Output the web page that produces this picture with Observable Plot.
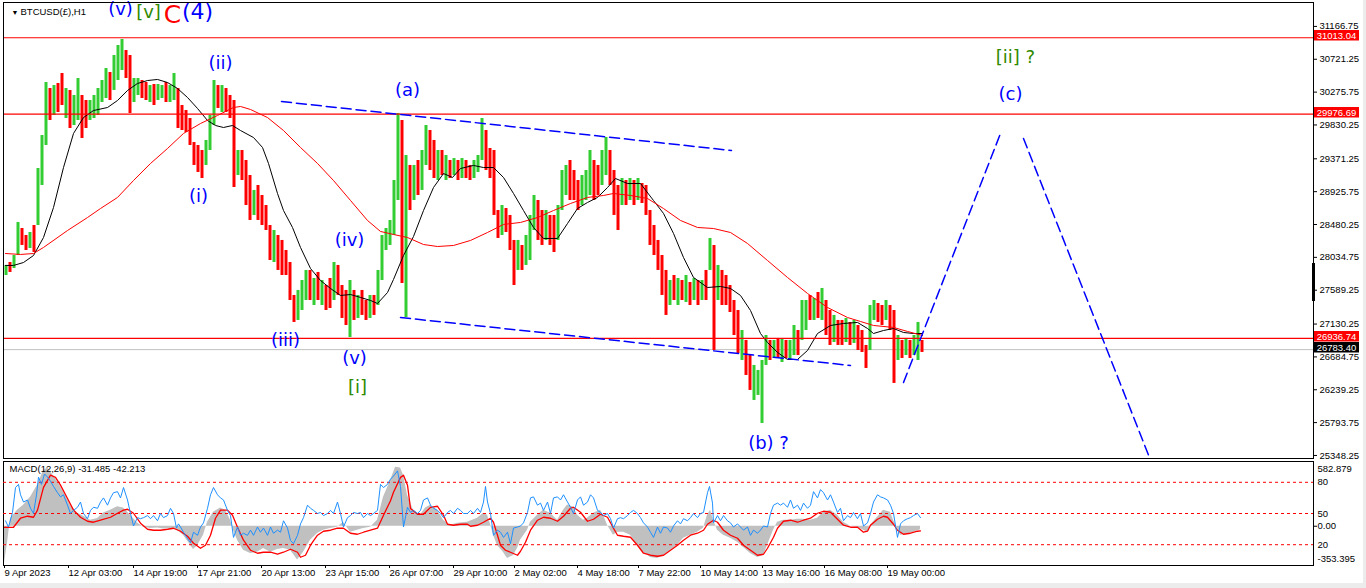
<!DOCTYPE html>
<html>
<head>
<meta charset="utf-8">
<script src="https://cdn.jsdelivr.net/npm/d3@7"></script>
<script src="https://cdn.jsdelivr.net/npm/@observablehq/plot@0.6"></script>
<style>
html,body{margin:0;padding:0;background:#ececec;}
#wrap{position:relative;width:1363px;height:583px;background:#fff;overflow:hidden;}
.layer{position:absolute;left:0;}
.layer svg{display:block;}
#axbar{position:absolute;left:1312px;top:263px;width:3px;height:38px;background:#000;}
</style>
</head>
<body>
<div id="wrap">
  <div id="main" class="layer" style="top:0"></div>
  <div id="macd" class="layer" style="top:459px"></div>
  <div id="osc" class="layer" style="top:459px"></div>
  <div id="axbar"></div>
</div>
<script>
// ---------------- DATA ----------------
const symbolTitle = "BTCUSD(£),H1";
const macdTitle = "MACD(12,26,9) -31.485 -42.213";

const priceTicks = [31166.75, 30721.25, 30275.75, 29830.25, 29371.25, 28925.75, 28480.25,
  28034.75, 27589.25, 27130.25, 26684.75, 26239.25, 25793.75, 25348.25];
const levelPrices = [31013.04, 29976.69, 26936.74];
const bidPrice = 26783.40;

const timeTicks = [3, 67, 132, 196, 260, 324, 388, 452, 513, 576, 637, 699, 761, 823, 886];
const timeLabels = ["9 Apr 2023", "12 Apr 03:00", "14 Apr 19:00", "17 Apr 21:00", "20 Apr 13:00",
  "23 Apr 15:00", "26 Apr 07:00", "29 Apr 10:00", "2 May 02:00", "4 May 18:00", "7 May 22:00",
  "10 May 14:00", "13 May 16:00", "16 May 08:00", "19 May 00:00"];

// H1 bars grouped by 4 hours: high, low, direction (u = up, d = down)
const barStart = 4, barStep = 4;
const barHigh = [
  27925, 27965, 28060, 28508, 28426, 28331, 28372, 28467, 29240, 29687,
  30406, 30325, 30365, 30393, 30528, 30325, 30298, 30230, 30460, 30230,
  30162, 30162, 30230, 30325, 30433, 30596, 30542, 30772, 30908, 30989,
  30840, 30772, 30460, 30460, 30433, 30406, 30365, 30379, 30379, 30365,
  30406, 30365, 30528, 30325, 30094, 30026, 29918, 29592, 29552, 29484,
  29620, 29959, 30433, 30365, 30365, 30325, 30230, 30162, 29484, 29484,
  29348, 29145, 28942, 29009, 28874, 28738, 28467, 28399, 28331, 28264,
  28128, 27965, 27518, 27586, 27721, 27857, 27857, 27748, 27830, 27721,
  27653, 27748, 27965, 27925, 27653, 27586, 27721, 27586, 27518, 27586,
  27450, 27518, 27518, 27857, 28331, 28426, 28535, 29077, 29986, 29891,
  29416, 29281, 29281, 29348, 29484, 29823, 29755, 29620, 29484, 29484,
  29416, 29348, 29375, 29348, 29375, 29348, 29281, 29348, 29416, 29918,
  29755, 29511, 29484, 28670, 28738, 28697, 28603, 28264, 28264, 28196,
  28331, 28603, 28874, 28806, 28670, 28670, 28603, 28603, 28738, 29213,
  29281, 29348, 29213, 29077, 29145, 29213, 29484, 29348, 29281, 29484,
  29660, 29484, 29213, 29009, 29104, 29077, 29104, 29077, 29104, 29036,
  29009, 28670, 28467, 28264, 28060, 27857, 27721, 27789, 27748, 27721,
  27789, 27694, 27748, 27721, 27721, 27857, 28291, 28196, 27925, 27857,
  27789, 27653, 27450, 27314, 27043, 26908, 26704, 26569, 26501, 26636,
  26975, 26908, 26908, 26935, 26935, 26908, 26908, 27111, 27043, 27450,
  27450, 27518, 27477, 27558, 27613, 27450, 27314, 27247, 27179, 27179,
  27206, 27152, 27179, 27111, 27043, 26840, 27382, 27450, 27409, 27382,
  27450, 27382, 27314, 26975, 26908, 26935, 26908, 26975, 27152, 26908
];
const barLow = [
  27789, 27830, 27884, 28060, 28196, 28128, 28155, 28101, 28467, 29009,
  29552, 29891, 29959, 29999, 30094, 29918, 29782, 29823, 29891, 29647,
  29782, 29891, 29918, 29959, 30135, 30189, 30162, 30298, 30433, 30569,
  30460, 29986, 30135, 30230, 30189, 30162, 30135, 30094, 30162, 30189,
  30135, 30135, 30162, 29782, 29755, 29728, 29552, 29281, 29186, 29104,
  29281, 29484, 29823, 30054, 29999, 29999, 29918, 28982, 29145, 29077,
  28738, 28535, 28603, 28535, 28467, 28399, 27992, 27965, 27857, 27789,
  27789, 27450, 27152, 27179, 27314, 27450, 27450, 27382, 27450, 27382,
  27314, 27341, 27450, 27518, 27206, 27111, 26948, 27179, 27206, 27247,
  27179, 27206, 27247, 27382, 27721, 28128, 28196, 28331, 28806, 27680,
  27219, 28670, 28806, 28874, 28942, 29281, 29213, 29104, 29077, 29145,
  29077, 29104, 29145, 29077, 29104, 29104, 29077, 29104, 29186, 29348,
  29213, 29104, 28603, 28291, 28331, 28372, 28128, 27653, 27857, 27857,
  27925, 27992, 28399, 28264, 28196, 28264, 28196, 28101, 28264, 28670,
  28874, 28806, 28806, 28670, 28738, 28806, 28874, 28806, 28874, 29009,
  29145, 29009, 28603, 28399, 28738, 28738, 28806, 28738, 28806, 28765,
  28603, 28196, 28060, 27857, 27518, 27247, 27382, 27450, 27382, 27450,
  27423, 27382, 27450, 27382, 27450, 27450, 27857, 26772, 27450, 27382,
  27382, 27287, 26975, 26731, 26636, 26433, 26230, 26094, 26162, 25782,
  26569, 26636, 26663, 26663, 26609, 26663, 26636, 26704, 26704, 26908,
  27043, 27179, 27179, 27206, 27179, 26975, 26840, 26880, 26840, 26840,
  26880, 26840, 26867, 26772, 26745, 26528, 26772, 27179, 27152, 27111,
  27179, 27043, 26325, 26636, 26663, 26704, 26663, 26704, 26636, 26745
];
const barDir = ("uduudduduu ududduduud duuuuuduuu dduudduduu duuddddddd uuududddud " +
  "dduddddudd ddduuududu ddudddudud duduuuuuud ududuuddud udududduuu ddddudddud " +
  "uuuddudduu uddduuuddu udddududud ddddddudud ududududud ddddudduuu udududuudu " +
  "udududdudd ududdduudd uddududuud").replace(/\s+/g, "");

// Moving averages [hour slot, price]
const fastMA = [[5,27925],[13,27925],[23,27965],[33,28060],[43,28304],[53,28711],[63,29253],[73,29715],
  [83,29931],[93,30026],[107,30067],[117,30162],[127,30298],[137,30393],[147,30433],[157,30447],
  [167,30406],[177,30325],[187,30203],[197,30054],[207,29891],[215,29823],[223,29796],[232,29823],
  [240,29755],[253,29660],[262,29525],[268,29308],[277,28901],[283,28670],[292,28440],[300,28169],
  [310,27884],[320,27721],[330,27613],[340,27518],[350,27531],[360,27491],[370,27450],[377,27409],
  [387,27558],[393,27735],[403,28060],[413,28318],[423,28670],[433,28982],[443,29172],[452,29118],
  [460,29240],[473,29281],[483,29253],[493,29253],[503,29118],[513,28901],[523,28670],[533,28440],
  [543,28291],[557,28291],[567,28494],[577,28697],[587,28779],[597,28847],[607,28982],[615,29104],
  [627,29036],[640,29036],[653,28806],[663,28630],[673,28359],[683,28033],[693,27762],[707,27626],
  [720,27640],[730,27613],[740,27518],[750,27314],[760,27002],[767,26880],[777,26745],[787,26650],
  [797,26650],[807,26772],[817,27002],[830,27111],[843,27138],[857,27152],[867,27070],[873,27002],
  [883,27043],[893,27070],[903,27016],[913,27002],[922,27002]];
const slowMA = [[5,28087],[20,28074],[33,28087],[43,28169],[67,28399],[87,28575],[100,28697],[117,28847],
  [133,29077],[150,29308],[167,29511],[183,29715],[200,29850],[217,29959],[233,30067],[240,30081],
  [250,30040],[267,29931],[283,29755],[300,29525],[317,29308],[333,29077],[350,28806],[367,28535],
  [380,28386],[393,28345],[407,28304],[423,28209],[437,28182],[453,28196],[470,28264],[487,28372],
  [503,28481],[520,28508],[537,28575],[553,28670],[570,28765],[587,28847],[603,28874],[613,28901],
  [630,28874],[647,28833],[663,28697],[680,28535],[697,28440],[713,28426],[730,28372],[747,28223],
  [767,27992],[787,27762],[807,27545],[827,27355],[847,27219],[860,27165],[873,27111],[893,27084],
  [907,27030],[922,26975]];

// Elliott-wave drawing: [hour slot, price]
const channelTop = [[281,30148],[731,29484]];
const channelBottom = [[400,27219],[850,26569]];
const projUp = [[903,26338],[1000,29715]];
const projDown = [[1023,29647],[1149,25320]];

// Wave labels: [text, hour slot, price]
const blueLabels = [["(ii)",220,30664],["(i)",198,28860],["(iii)",285,26908],["(iv)",349,28264],
  ["(v)",354,26663],["(a)",407,30298],["(b) ?",768,25510],["(c)",1010,30243],["(v)",120,31405]];
const greenLabels = [["[i]",357,26270],["[ii] ?",1015,30745],["[v]",148,31355]];
const redBigLabels = [["C",172,31318]];
const blueBigLabels = [["(4)",197,31360]];

// MACD panel
const macdMax = 582.879, macdMin = -353.395;
const macdHist = [[4,-330],[7,-150],[10,70],[17,145],[23,190],[30,260],[37,370],[43,500],[47,525],[50,490],
  [57,400],[63,310],[70,190],[77,120],[83,90],[90,55],[97,70],[103,120],[110,145],[117,175],[123,165],
  [130,100],[137,30],[143,-10],[150,-20],[157,-15],[163,-25],[170,-20],[177,-35],[183,-80],[190,-170],
  [193,-210],[197,-175],[203,-80],[207,35],[213,125],[220,165],[225,145],[230,55],[233,-35],[237,-125],
  [243,-215],[250,-245],[257,-235],[263,-200],[270,-235],[277,-210],[283,-200],[290,-215],[297,-305],
  [303,-235],[310,-125],[317,-65],[323,-35],[330,-20],[337,-10],[343,35],[350,-55],[357,-35],[363,-20],
  [370,-10],[377,55],[383,260],[390,410],[395,530],[400,525],[403,460],[407,280],[413,145],[420,100],
  [425,165],[430,190],[437,145],[443,55],[450,10],[457,27],[467,36],[477,73],[483,118],[487,100],[490,18],
  [493,-82],[497,-173],[503,-236],[507,-291],[513,-264],[517,-200],[520,-127],[527,-36],[530,36],[537,100],
  [543,145],[550,118],[557,55],[563,145],[567,191],[573,173],[577,100],[583,55],[587,73],[593,118],[600,145],
  [603,100],[607,9],[613,-82],[617,-55],[623,-55],[630,-82],[637,-173],[643,-236],[650,-282],[657,-291],
  [663,-264],[670,-218],[677,-173],[683,-109],[690,-82],[697,-55],[703,-18],[707,100],[710,145],[713,55],
  [717,-36],[723,-82],[730,-109],[737,-145],[743,-191],[750,-245],[757,-282],[763,-264],[767,-173],[773,-36],
  [777,36],[783,55],[790,55],[797,64],[803,64],[810,55],[817,73],[823,127],[830,145],[837,100],[843,36],
  [850,0],[857,-9],[863,-36],[867,-55],[870,9],[877,82],[883,145],[890,127],[893,55],[897,-18],[900,-82],
  [907,-73],[913,-55],[920,-31]];
const macdSignal = [[4,-10],[13,-9],[20,72],[27,90],[33,81],[37,145],[43,350],[50,460],[55,440],[60,370],
  [67,250],[73,145],[80,81],[87,45],[93,36],[100,54],[110,81],[117,117],[123,145],[127,153],[133,117],
  [140,27],[147,-27],[153,-36],[160,-36],[167,-27],[173,-18],[180,-45],[187,-90],[193,-153],[200,-198],
  [205,-171],[210,-81],[215,72],[220,145],[227,145],[232,99],[237,-9],[243,-126],[250,-216],[257,-243],
  [263,-234],[270,-234],[277,-252],[283,-234],[290,-207],[297,-234],[300,-279],[305,-261],[310,-171],
  [317,-81],[323,-45],[330,-36],[337,-18],[343,-18],[350,-63],[357,-72],[363,-54],[370,-36],[377,-18],
  [383,99],[390,230],[393,306],[400,440],[403,460],[407,370],[410,160],[417,108],[423,108],[430,170],
  [437,180],[443,99],[447,18],[453,9],[460,18],[467,18],[470,0],[477,9],[483,36],[490,72],[493,36],
  [497,-81],[500,-171],[505,-216],[510,-234],[517,-261],[520,-225],[525,-144],[530,-36],[537,54],[543,81],
  [550,72],[557,45],[563,90],[570,162],[573,171],[580,126],[587,45],[593,63],[600,108],[607,81],[613,-18],
  [617,-81],[623,-90],[630,-99],[637,-171],[643,-243],[650,-261],[657,-270],[663,-261],[670,-216],
  [677,-171],[683,-126],[690,-81],[697,-63],[703,-36],[707,18],[713,54],[717,36],[723,-36],[730,-81],
  [737,-108],[743,-171],[750,-216],[757,-261],[763,-252],[767,-198],[773,-99],[777,-18],[783,45],[790,54],
  [797,36],[803,54],[810,72],[817,117],[823,135],[830,126],[837,63],[843,9],[850,-9],[857,-9],[863,-54],
  [867,-45],[870,9],[877,63],[883,90],[887,81],[893,18],[897,-36],[903,-72],[910,-63],[917,-45],[920,-42]];

// Oscillator (0-100) drawn in the same pane
const oscLevels = [80, 50, 20];
const oscLine = [[5,43],[8,37],[12,51],[15,75],[18,78],[20,68],[23,61],[27,63],[30,55],[33,50],[36,68],[38,85],
  [41,78],[44,88],[47,85],[50,81],[53,76],[57,70],[60,66],[63,68],[67,58],[70,50],[73,53],[77,56],[80,61],
  [83,50],[87,45],[90,53],[93,56],[97,55],[100,61],[103,65],[107,58],[110,65],[113,70],[117,71],[120,65],
  [123,75],[127,63],[130,50],[133,38],[137,46],[140,45],[143,46],[147,48],[150,45],[153,48],[157,43],
  [160,50],[163,46],[167,48],[170,55],[173,50],[176,36],[178,40],[180,37],[183,32],[187,26],[190,22],
  [193,32],[197,29],[200,37],[203,41],[207,55],[210,68],[213,75],[217,68],[220,65],[223,63],[227,53],
  [230,48],[233,27],[237,37],[240,29],[243,31],[247,29],[250,34],[253,29],[257,37],[260,32],[263,36],
  [267,29],[270,37],[273,31],[277,34],[280,32],[283,43],[287,36],[290,24],[293,21],[297,29],[300,40],
  [303,46],[307,58],[310,55],[313,53],[317,50],[320,51],[323,48],[327,50],[330,53],[333,50],[337,61],
  [340,50],[343,37],[347,46],[350,48],[353,51],[357,50],[360,51],[363,46],[367,50],[370,48],[373,50],
  [377,53],[380,78],[383,75],[387,78],[390,83],[393,86],[397,91],[400,76],[403,37],[407,56],[410,51],
  [413,53],[417,50],[420,53],[423,63],[427,65],[430,58],[433,55],[437,53],[440,50],[443,46],[447,51],
  [450,53],[453,50],[457,55],[460,53],[463,50],[467,50],[470,53],[473,50],[477,55],[480,51],[483,61],
  [485,76],[487,61],[490,50],[493,29],[497,34],[500,32],[503,27],[507,32],[510,21],[513,36],[517,37],
  [520,38],[523,41],[527,51],[530,65],[533,66],[537,58],[540,60],[543,53],[547,61],[550,50],[553,65],
  [557,66],[560,63],[563,68],[567,61],[570,56],[573,50],[577,63],[580,66],[583,58],[587,61],[590,68],
  [593,65],[597,53],[600,51],[603,48],[607,50],[610,45],[613,36],[617,45],[620,46],[623,45],[627,48],
  [630,51],[633,53],[637,50],[640,46],[643,41],[647,37],[650,32],[653,27],[657,37],[660,31],[663,37],
  [667,36],[670,32],[673,38],[677,43],[680,40],[683,45],[687,43],[690,46],[693,50],[697,46],[700,50],
  [703,51],[707,70],[709,76],[712,60],[713,41],[717,48],[720,43],[723,48],[727,43],[730,41],[733,37],
  [737,40],[740,37],[743,34],[747,37],[750,29],[753,34],[757,31],[760,34],[763,38],[767,37],[770,50],
  [773,58],[777,60],[780,58],[783,60],[787,56],[790,63],[793,55],[797,58],[800,53],[803,60],[807,55],
  [810,58],[813,71],[817,65],[820,73],[823,70],[827,63],[830,68],[833,61],[837,51],[840,55],[843,43],
  [847,48],[850,46],[853,51],[857,45],[860,50],[863,38],[867,41],[870,50],[873,61],[877,68],[880,66],
  [883,65],[887,63],[890,58],[893,50],[897,27],[900,40],[903,43],[907,45],[910,46],[913,48],[917,50],[920,46]];

// ---------------- BUILD ----------------
const W = 1363, ML = 3, MR = 50;
const n = Math.min(barHigh.length, barLow.length, barDir.length);
const bars = [];
for (let i = 0; i < n; i++) {
  bars.push({t: barStart + i * barStep + 1.5, hi: barHigh[i], lo: barLow[i], up: barDir[i] === "u"});
}
const px = d => d[0], py = d => d[1];
const baseStyle = {background: "transparent", fontFamily: "'Liberation Sans', Arial, sans-serif",
  fontSize: "9.5px", color: "#000", overflow: "visible"};
const waveFont = "'DejaVu Sans', Verdana, sans-serif";
const timeLabelOf = new Map(timeTicks.map((t, i) => [t, timeLabels[i]]));

const mainPlot = Plot.plot({
  width: W, height: 459, marginLeft: ML, marginRight: MR, marginTop: 2, marginBottom: 1,
  style: baseStyle,
  x: {domain: [3, 1313], axis: null},
  y: {domain: [25307, 31491]},
  marks: [
    Plot.ruleY([bidPrice], {stroke: "#c0c0c0"}),
    Plot.ruleX(bars.filter(d => d.up), {x: "t", y1: "lo", y2: "hi", stroke: "#32cd32", strokeWidth: 3}),
    Plot.ruleX(bars.filter(d => !d.up), {x: "t", y1: "lo", y2: "hi", stroke: "#ff0000", strokeWidth: 3}),
    Plot.line(fastMA, {x: px, y: py, stroke: "#000", strokeWidth: 1}),
    Plot.line(slowMA, {x: px, y: py, stroke: "#ff0000", strokeWidth: 1}),
    Plot.ruleY(levelPrices, {stroke: "#ff0000", strokeWidth: 1.2}),
    Plot.line(channelTop, {x: px, y: py, stroke: "#0000ff", strokeDasharray: "10,5"}),
    Plot.line(channelBottom, {x: px, y: py, stroke: "#0000ff", strokeDasharray: "10,5"}),
    Plot.line(projUp, {x: px, y: py, stroke: "#0000ff", strokeDasharray: "10,5"}),
    Plot.line(projDown, {x: px, y: py, stroke: "#0000ff", strokeDasharray: "10,5"}),
    Plot.text(blueLabels, {x: d => d[1], y: d => d[2], text: d => d[0], fill: "#0000ff", fontSize: 18, fontFamily: waveFont}),
    Plot.text(greenLabels, {x: d => d[1], y: d => d[2], text: d => d[0], fill: "#2f8a00", fontSize: 18, fontFamily: waveFont}),
    Plot.text(redBigLabels, {x: d => d[1], y: d => d[2], text: d => d[0], fill: "#ff0000", fontSize: 25, fontFamily: waveFont}),
    Plot.text(blueBigLabels, {x: d => d[1], y: d => d[2], text: d => d[0], fill: "#0000ff", fontSize: 22, fontFamily: waveFont}),
    Plot.text(["▼"], {frameAnchor: "top-left", dx: 8, dy: 8, lineAnchor: "top", textAnchor: "start", fontSize: 7}),
    Plot.text([symbolTitle], {frameAnchor: "top-left", dx: 17, dy: 6, lineAnchor: "top", textAnchor: "start", fontSize: 9.5}),
    Plot.axisY(priceTicks, {anchor: "right", tickSize: 3, tickPadding: 3, tickFormat: d => d.toFixed(2), label: null}),
    Plot.frame({stroke: "#000"})
  ]
});
document.getElementById("main").appendChild(mainPlot);

// price tags on the right axis, placed through the plot's own y scale
const levelTags = [[levelPrices[0], "#ff0000"], [levelPrices[1], "#ff0000"], [levelPrices[2], "#ff0000"], [bidPrice, "#000000"]];
const ySc = mainPlot.scale("y");
const yOf = ySc.apply ? (v => ySc.apply(v)) : d3.scaleLinear(ySc.domain, ySc.range);
const tagLayer = d3.select(mainPlot).append("g");
const tagX = W - MR + 1, tagW = 45;
for (const [v, col] of levelTags) {
  const y = Math.round(yOf(v));
  tagLayer.append("rect").attr("x", tagX).attr("y", y - 7).attr("width", tagW).attr("height", 10.5).attr("fill", col);
  tagLayer.append("text").attr("x", tagX + tagW / 2).attr("y", y - 1.8).attr("dy", "0.35em")
    .attr("text-anchor", "middle")
    .attr("fill", "#fff").attr("font-size", 9.5).attr("font-family", "'Liberation Sans', Arial, sans-serif")
    .text(v.toFixed(2));
}

const macdPlot = Plot.plot({
  width: W, height: 124, marginLeft: ML, marginRight: MR, marginTop: 2, marginBottom: 18,
  style: baseStyle,
  x: {domain: [3, 1313]},
  y: {domain: [macdMin, macdMax]},
  marks: [
    Plot.areaY(macdHist, {x: px, y1: 0, y2: py, fill: "#c0c0c0"}),
    Plot.line(macdSignal, {x: px, y: py, stroke: "#ff0000", strokeWidth: 1.3}),
    Plot.axisX(timeTicks, {anchor: "bottom", tickSize: 3, tickPadding: 1, textAnchor: "start", dx: 1,
      tickFormat: d => timeLabelOf.get(d), label: null}),
    Plot.axisY([macdMax], {anchor: "right", tickSize: 0, tickPadding: 4, dy: 7, tickFormat: d => d.toFixed(3), label: null}),
    Plot.axisY([0], {anchor: "right", tickSize: 3, tickPadding: 1, tickFormat: d => d.toFixed(2), label: null}),
    Plot.axisY([macdMin], {anchor: "right", tickSize: 0, tickPadding: 4, dy: -7, tickFormat: d => d.toFixed(3), label: null}),
    Plot.text([macdTitle], {frameAnchor: "top-left", dx: 6, dy: 4, lineAnchor: "top", textAnchor: "start", fontSize: 9.5}),
    Plot.frame({stroke: "#000"})
  ]
});
document.getElementById("macd").appendChild(macdPlot);

const oscPlot = Plot.plot({
  width: W, height: 124, marginLeft: ML, marginRight: MR, marginTop: 2, marginBottom: 18,
  style: baseStyle,
  x: {domain: [3, 1313], axis: null},
  y: {domain: [0, 100]},
  marks: [
    Plot.ruleY(oscLevels, {stroke: "#ff0000", strokeDasharray: "3,3"}),
    Plot.line(oscLine, {x: px, y: py, stroke: "#1e90ff", strokeWidth: 1}),
    Plot.axisY(oscLevels, {anchor: "right", tickSize: 0, tickPadding: 4, tickFormat: d => String(d), label: null})
  ]
});
document.getElementById("osc").appendChild(oscPlot);
</script>
</body>
</html>
